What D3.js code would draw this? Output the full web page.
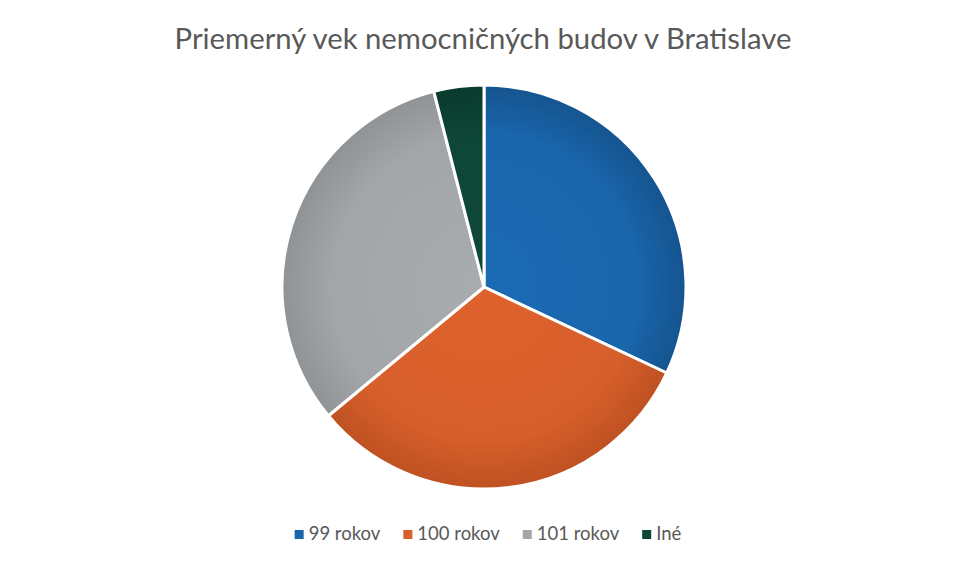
<!DOCTYPE html>
<html><head><meta charset="utf-8">
<script src="https://cdn.jsdelivr.net/npm/d3@7"></script>
<style>body{margin:0;background:#fff}svg{display:block}</style>
</head><body>
<script>
const categories = ["99 rokov", "100 rokov", "101 rokov", "Iné"];
const values = [32, 32, 32, 4];
const colors = ["#1a66ad", "#d75f2b", "#a3a6a9", "#0e4638"];
const edgeColors = ["#15548f", "#bf5122", "#909396", "#093a2e"];
const title = "Priemerný vek nemocničných budov v Bratislave";

const W = 969, H = 565;
const svg = d3.select("body").append("svg").attr("width", W).attr("height", H);
svg.append("rect").attr("width", W).attr("height", H).attr("fill", "#fff");

const cx = 484, cy = 287, R = 202;
const defs = svg.append("defs");
categories.forEach((c, i) => {
  const g = defs.append("radialGradient").attr("id", "g" + i)
    .attr("gradientUnits", "userSpaceOnUse").attr("cx", 0).attr("cy", 0).attr("r", R);
  g.append("stop").attr("offset", "0%").attr("stop-color", d3.color(colors[i]).brighter(0.1));
  g.append("stop").attr("offset", "75%").attr("stop-color", colors[i]);
  g.append("stop").attr("offset", "100%").attr("stop-color", edgeColors[i]);
});

svg.append("text").attr("x", 483).attr("y", 49).attr("text-anchor", "middle")
  .attr("font-family", "Lato, 'Open Sans', sans-serif").attr("font-size", 29.3)
  .attr("fill", "#595959").text(title);

const pie = d3.pie().sort(null).value(d => d)(values);
const arc = d3.arc().innerRadius(0).outerRadius(R);
const g = svg.append("g").attr("transform", `translate(${cx},${cy})`);
g.selectAll("path").data(pie).join("path")
  .attr("d", arc).attr("fill", (d, i) => `url(#g${i})`)
  .attr("stroke", "#fff").attr("stroke-width", 3).attr("stroke-linejoin", "round");

// legend
const leg = svg.append("g").attr("font-family", "Lato, 'Open Sans', sans-serif").attr("font-size", 18.5).attr("fill", "#595959");
const items = leg.selectAll("g").data(categories).join("g");
items.append("rect").attr("width", 9).attr("height", 9).attr("y", -10).attr("fill", (d, i) => colors[i]);
items.append("text").attr("x", 14).attr("y", 0).text(d => d);
let x = 0;
const positions = [];
items.each(function (d, i) {
  positions.push(x);
  x += d3.select(this).select("text").node().getComputedTextLength() + 14 + 23;
});
const total = x - 23;
const startX = 488 - total / 2;
items.attr("transform", (d, i) => `translate(${startX + positions[i]},540)`);
</script>
</body></html>
